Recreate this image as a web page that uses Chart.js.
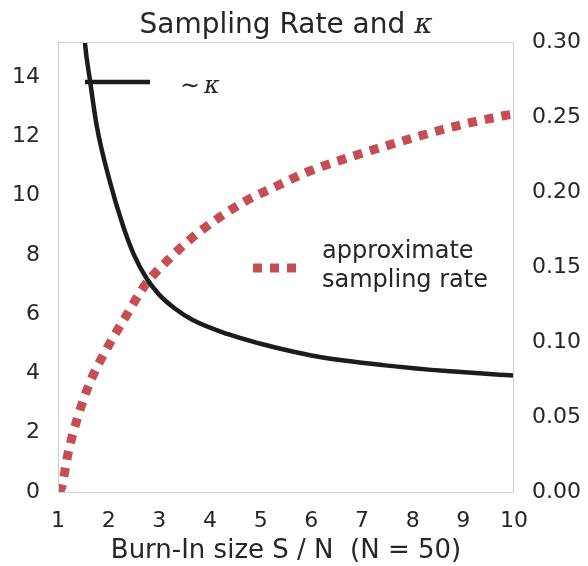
<!DOCTYPE html>
<html>
<head>
<meta charset="utf-8">
<script src="https://cdn.jsdelivr.net/npm/chart.js@4.4.1/dist/chart.umd.min.js"></script>
<style>
  html, body { margin: 0; padding: 0; background: #fff; }
  #wrap { width: 588px; height: 566px; }
</style>
</head>
<body>
<div id="wrap"><canvas id="chart" width="588" height="566"></canvas></div>
<script>
// ~kappa curve (left axis)
const kappaX = [1.46, 1.53, 1.63, 1.77, 2.01, 2.28, 2.5, 2.75, 3.0, 3.3, 3.66, 4.34, 5.0, 5.52, 6.11, 7.41, 8.74, 10];
const kappaY = [17.0, 15.18, 13.9, 12.3, 10.56, 9.0, 8.0, 7.2, 6.65, 6.2, 5.8, 5.33, 5.0, 4.78, 4.57, 4.28, 4.07, 3.93];

// approximate sampling rate (right axis)
const rateX = [1, 1.07, 1.2, 1.39, 1.63, 1.97, 2.32, 2.72, 3.21, 3.74, 4.65, 5.32, 5.97, 7.02, 8.0, 8.74, 9.82, 10];
const rateY = [0, 0.003, 0.026, 0.05, 0.073, 0.096, 0.116, 0.138, 0.156, 0.172, 0.193, 0.204, 0.214, 0.226, 0.236, 0.243, 0.251, 0.252];

const xTicks = [1, 2, 3, 4, 5, 6, 7, 8, 9, 10];
const leftTicks = [0, 2, 4, 6, 8, 10, 12, 14];
const rightTicks = [0, 0.05, 0.10, 0.15, 0.20, 0.25, 0.30];

const textColor = '#262626';
const black = '#1c1c1c';
const red = '#c44e52';

const toPoints = (xs, ys) => xs.map((x, i) => ({x: x, y: ys[i]}));

const overlay = {
    id: 'overlay',
    afterDraw(chart) {
        const ctx = chart.ctx;
        const a = chart.chartArea;
        ctx.save();
        // frame
        ctx.strokeStyle = '#d0d0d0';
        ctx.lineWidth = 1;
        ctx.strokeRect(a.left + 0.5, a.top + 0.5, a.right - a.left - 1, a.bottom - a.top);

        // title
        ctx.fillStyle = textColor;
        ctx.textBaseline = 'alphabetic';
        const t1 = 'Sampling Rate and ';
        const t2 = '\u03BA';
        ctx.font = '28px "DejaVu Sans"';
        const w1 = ctx.measureText(t1).width;
        ctx.font = 'italic 28px "DejaVu Serif"';
        const w2 = ctx.measureText(t2).width;
        const cx = (a.left + a.right) / 2;
        let x0 = cx - (w1 + w2) / 2;
        ctx.font = '28px "DejaVu Sans"';
        ctx.fillText(t1, x0, 33);
        ctx.font = 'italic 28px "DejaVu Serif"';
        ctx.fillText(t2, x0 + w1, 33);

        // legend: ~kappa
        ctx.strokeStyle = black;
        ctx.lineWidth = 4.5;
        ctx.setLineDash([]);
        ctx.beginPath();
        ctx.moveTo(85, 82);
        ctx.lineTo(150, 82);
        ctx.stroke();
        ctx.fillStyle = textColor;
        ctx.font = '24px "DejaVu Serif"';
        ctx.fillText('\u223C', 180, 93);
        const ws = ctx.measureText('\u223C').width;
        ctx.font = 'italic 24px "DejaVu Serif"';
        ctx.fillText('\u03BA', 180 + ws + 4, 93);

        // legend: sampling rate
        ctx.strokeStyle = red;
        ctx.lineWidth = 9;
        ctx.setLineDash([9, 8]);
        ctx.beginPath();
        ctx.moveTo(253, 268);
        ctx.lineTo(297, 268);
        ctx.stroke();
        ctx.setLineDash([]);
        ctx.fillStyle = textColor;
        ctx.font = '24px "DejaVu Sans"';
        ctx.fillText('approximate', 322, 258);
        ctx.fillText('sampling rate', 322, 287);
        ctx.restore();
    }
};

new Chart(document.getElementById('chart'), {
    type: 'line',
    data: {
        datasets: [
            {
                label: '~κ',
                data: toPoints(kappaX, kappaY),
                yAxisID: 'y',
                borderColor: black,
                borderWidth: 4.5,
                pointRadius: 0,
                cubicInterpolationMode: 'monotone',
                fill: false
            },
            {
                label: 'approximate sampling rate',
                data: toPoints(rateX, rateY),
                yAxisID: 'y1',
                borderColor: red,
                borderWidth: 9,
                borderDash: [9, 8],
                borderCapStyle: 'butt',
                pointRadius: 0,
                cubicInterpolationMode: 'monotone',
                fill: false
            }
        ]
    },
    options: {
        responsive: false,
        animation: false,
        layout: { padding: { top: 42, left: 0, right: 0, bottom: 0 } },
        plugins: {
            legend: { display: false },
            tooltip: { enabled: false }
        },
        scales: {
            x: {
                type: 'linear',
                min: 1,
                max: 10,
                grid: { display: false },
                border: { display: false },
                afterBuildTicks: s => { s.ticks = xTicks.map(v => ({value: v})); },
                afterFit: s => { s.height = 74; },
                ticks: {
                    padding: 8,
                    color: textColor,
                    font: { family: 'DejaVu Sans', size: 22 },
                    maxRotation: 0
                },
                title: {
                    display: true,
                    text: 'Burn-In size S / N  (N = 50)',
                    color: textColor,
                    font: { family: 'DejaVu Sans', size: 26, lineHeight: 1.0 },
                    padding: { top: 0, bottom: 2 }
                }
            },
            y: {
                type: 'linear',
                position: 'left',
                min: 0,
                max: 15.18,
                grid: { display: false },
                border: { display: false },
                afterBuildTicks: s => { s.ticks = leftTicks.map(v => ({value: v})); },
                afterFit: s => { s.width = 58; },
                ticks: {
                    padding: 10,
                    color: textColor,
                    font: { family: 'DejaVu Sans', size: 22 }
                }
            },
            y1: {
                type: 'linear',
                position: 'right',
                min: 0,
                max: 0.30,
                grid: { display: false },
                border: { display: false },
                afterBuildTicks: s => { s.ticks = rightTicks.map(v => ({value: v})); },
                afterFit: s => { s.width = 74; },
                ticks: {
                    padding: 10,
                    color: textColor,
                    font: { family: 'DejaVu Sans', size: 22 },
                    callback: v => Number(v).toFixed(2)
                }
            }
        }
    },
    plugins: [overlay]
});
</script>
</body>
</html>
